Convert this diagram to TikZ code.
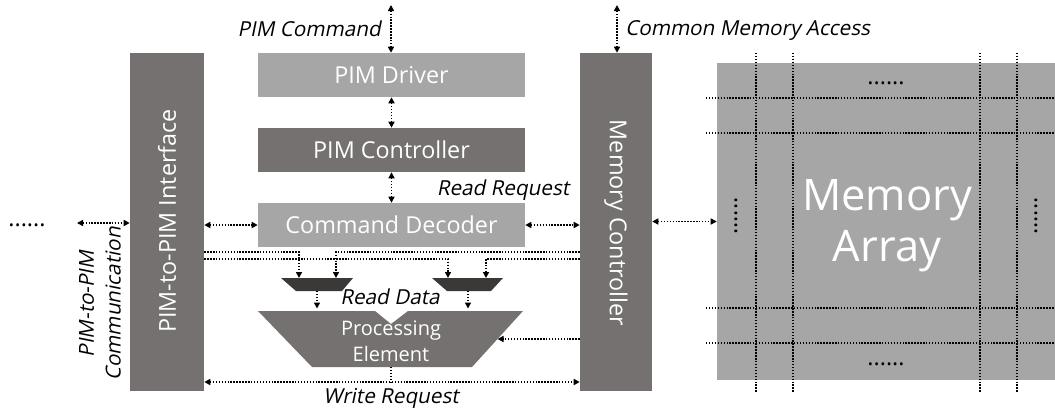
\documentclass[tikz,border=0pt]{standalone}
\usepackage{fontspec}
\setmainfont{Open Sans}
\newfontfamily\labfont[FakeSlant=0.2]{Open Sans}
\usetikzlibrary{arrows.meta}
\definecolor{dk}{HTML}{767171}
\definecolor{lt}{HTML}{A6A6A6}
\definecolor{mx}{HTML}{3B3838}
\begin{document}
\begin{tikzpicture}[x=0.75pt,y=-0.75pt,
  box/.style={fill=#1, draw=none, text=white, inner sep=0pt, font=\fontsize{17.5}{21}\selectfont},
  dl/.style={line width=1.1pt, dash pattern=on 1.1pt off 1.1pt},
  ar/.style={dl, {Triangle[length=4.5pt,width=4.5pt]}-{Triangle[length=4.5pt,width=4.5pt]}},
  ra/.style={dl, -{Triangle[length=4.5pt,width=4.5pt]}},
  lab/.style={font=\labfont\fontsize{15.5}{20}\selectfont, inner sep=0pt},
  dots/.style={font=\fontsize{17.5}{21}\selectfont, inner sep=0pt},
  grid/.style={line width=1.1pt, dash pattern=on 1.1pt off 1.1pt}]
\useasboundingbox (0,0) rectangle (1055,411);

% main blocks
\node[box=dk, minimum width=74*0.75pt, minimum height=338*0.75pt] (pif) at (167,222) {};
\node[text=white, rotate=90, font=\fontsize{17.5}{21}\selectfont] (piftxt) at (167,221) {PIM-to-PIM Interface};
\node[box=dk, minimum width=72*0.75pt, minimum height=338*0.75pt] (mc) at (616,222) {};
\node[text=white, rotate=-90, font=\fontsize{17.5}{21}\selectfont] (mctxt) at (616,223) {Memory Controller};
\node[box=lt, minimum width=267*0.75pt, minimum height=44*0.75pt] (drv) at (391.5,75) {PIM Driver};
\node[box=dk, minimum width=267*0.75pt, minimum height=44*0.75pt] (ctl) at (391.5,150) {PIM Controller};
\node[box=lt, minimum width=267*0.75pt, minimum height=44*0.75pt] (dec) at (391.5,225) {Command Decoder};

% memory array
\node[box=lt, minimum width=338*0.75pt, minimum height=317*0.75pt] (arr) at (886,221.5) {};
\foreach \gx in {756,793,980,1017} \draw[grid] (\gx,53) -- (\gx,392);
\foreach \gy in {98,133,308,343} \draw[grid] (706,\gy) -- (1055,\gy);
\node[text=white, align=center, font=\fontsize{32.6}{38}\selectfont] (arrtxt) at (887,226) {Memory\\Array};
\node[dots] (d1) at (886,83) {......};
\node[dots] (d2) at (886,364) {......};
\node[dots, rotate=90] (d3) at (736,216) {......};
\node[dots, rotate=90] (d4) at (1036,216) {......};

% muxes and PE
\fill[mx] (281,278) -- (353,278) -- (342,291) -- (296,291) -- cycle;
\fill[mx] (432,278) -- (503,278) -- (491,291) -- (447,291) -- cycle;
\coordinate (m1a) at (299,278); \coordinate (m1b) at (336,278); \coordinate (m1o) at (317,291);
\coordinate (m2a) at (448,278); \coordinate (m2b) at (486,278); \coordinate (m2o) at (468,291);
\fill[dk] (258,311) -- (375,311) -- (391,324) -- (408,311) -- (523,311) -- (472,367) -- (312,367) -- cycle;
\coordinate (petop) at (391,311);
\coordinate (pebot) at (391,367);
\coordinate (peright) at (497.5,339);
\node[text=white, align=center, font=\fontsize{15}{19.5}\selectfont, inner sep=0pt] (pe) at (391,341) {Processing\\Element};

% connectors
\coordinate (pc) at (391,5);
\coordinate (cma) at (617,5);
\draw[ar] (pc) -- (pc |- drv.north);
\draw[ar] (drv.south) -- (ctl.north);
\draw[ar] (ctl.south) -- (dec.north);
\draw[ar] (pif.east |- dec.west) -- (dec.west);
\draw[ar] (dec.east) -- (mc.west |- dec.east);
\draw[ar] (cma) -- (cma |- mc.north);
\draw[ar] (mc.east |- arr.west) -- (arr.west);
\coordinate (ppc) at (77,223);
\draw[ar] (ppc) -- (pif.west |- ppc);
\node[dots] (ldots) at (27,225) {......};

\draw[ra] (pif.east |- 0,252) -| (m1a);
\draw[ra] (mc.west |- 0,252) -| (m1b);
\draw[ra] (pif.east |- 0,259) -| (m2a);
\draw[ra] (mc.west |- 0,259) -| (m2b);
\draw[ra] (m1o) -- (m1o |- 0,308.5);
\draw[ra] (m2o) -- (m2o |- 0,308.5);
\draw[ra] (mc.west |- peright) -- (peright);
\coordinate (wr) at (391,382);
\draw[dl] (pebot) -- (wr);
\draw[ar] (pif.east |- wr) -- (mc.west |- wr);

% labels
\node[lab, anchor=east] (lpc) at (381,29) {PIM Command};
\node[lab, anchor=west] (lcma) at (625,30) {Common Memory Access};
\node[lab] (lrr) at (503,190) {Read Request};
\node[lab] (lrd) at (390,297) {Read Data};
\node[lab] (lwr) at (391,398) {Write Request};
\node[lab, rotate=90, align=center] (lppc) at (100,304) {PIM-to-PIM\\Communication};
\end{tikzpicture}
\end{document}
